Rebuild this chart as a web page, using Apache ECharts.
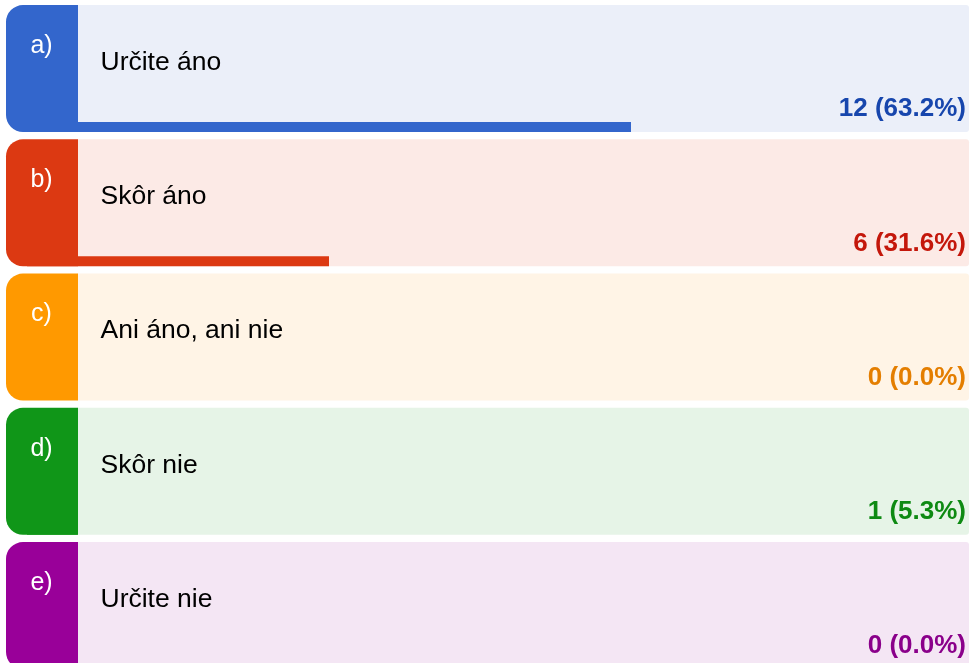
<!DOCTYPE html>
<html>
<head>
<meta charset="utf-8">
<script src="https://cdn.jsdelivr.net/npm/echarts@6/dist/echarts.min.js"></script>
<style>
html,body{margin:0;padding:0;background:#fff;}
#chart{width:970px;height:663px;}
</style>
</head>
<body>
<div id="chart"></div>
<script>
const letters = ['a)', 'b)', 'c)', 'd)', 'e)'];
const categories = ['Určite áno', 'Skôr áno', 'Ani áno, ani nie', 'Skôr nie', 'Určite nie'];
const counts = [12, 6, 0, 1, 0];
const percents = [63.2, 31.6, 0.0, 5.3, 0.0];

const mainColors = ['#3366CC', '#DC3912', '#FF9900', '#109618', '#990099'];
const tintColors = ['#EBEFF9', '#FCEAE6', '#FFF4E6', '#E6F4E7', '#F4E6F4'];
const textColors = ['#1746AD', '#C4170B', '#E47E00', '#0E8A13', '#8A008A'];

const FONT = 'Liberation Sans';

const chart = echarts.init(document.getElementById('chart'), null, {renderer: 'canvas'});

function renderItem(params, api) {
  const idx = api.value(0);
  const pct = api.value(1);
  const origin = api.coord([0, idx]);
  const end = api.coord([pct, idx]);
  const band = api.size([0, 1])[1];
  const h = band * 0.945;
  const top = origin[1] - h / 2;
  const W = api.getWidth();
  const left = 6, blockRight = 77, right = W - 1;
  const barH = 10;
  const c = mainColors[idx];
  return {
    type: 'group',
    children: [
      {type: 'rect', shape: {x: blockRight, y: top, width: right - blockRight, height: h, r: [0, 3, 3, 0]}, style: {fill: tintColors[idx]}},
      {type: 'rect', shape: {x: origin[0], y: top + h - barH, width: Math.max(0, end[0] - origin[0]), height: barH}, style: {fill: c}},
      {type: 'rect', shape: {x: left, y: top, width: blockRight + 1 - left, height: h, r: [17, 0, 0, 17]}, style: {fill: c}},
      {type: 'text', x: (left + blockRight) / 2, y: top + 41, style: {text: letters[idx], fill: '#fff', fontFamily: FONT, fontSize: 25, align: 'center', verticalAlign: 'middle'}},
      {type: 'text', x: 100.5, y: top + 57.5, style: {text: categories[idx], fill: '#000', fontFamily: FONT, fontSize: 26.5, align: 'left', verticalAlign: 'middle'}},
      {type: 'text', x: 966, y: top + 104, style: {text: counts[idx] + ' (' + percents[idx].toFixed(1) + '%)', fill: textColors[idx], fontFamily: FONT, fontSize: 26, fontWeight: 'bold', align: 'right', verticalAlign: 'middle'}}
    ]
  };
}

chart.setOption({
  animation: false,
  backgroundColor: '#fff',
  grid: {left: 27, top: 1.4, width: 955.7, height: 671.25, containLabel: false, outerBoundsMode: 'none'},
  xAxis: {type: 'value', min: 0, max: 100, show: false},
  yAxis: {type: 'category', data: categories, inverse: true, show: false},
  series: [{
    type: 'custom',
    clip: false,
    renderItem: renderItem,
    encode: {x: 1, y: 0},
    data: categories.map((_, i) => [i, percents[i]])
  }]
});
</script>
</body>
</html>
